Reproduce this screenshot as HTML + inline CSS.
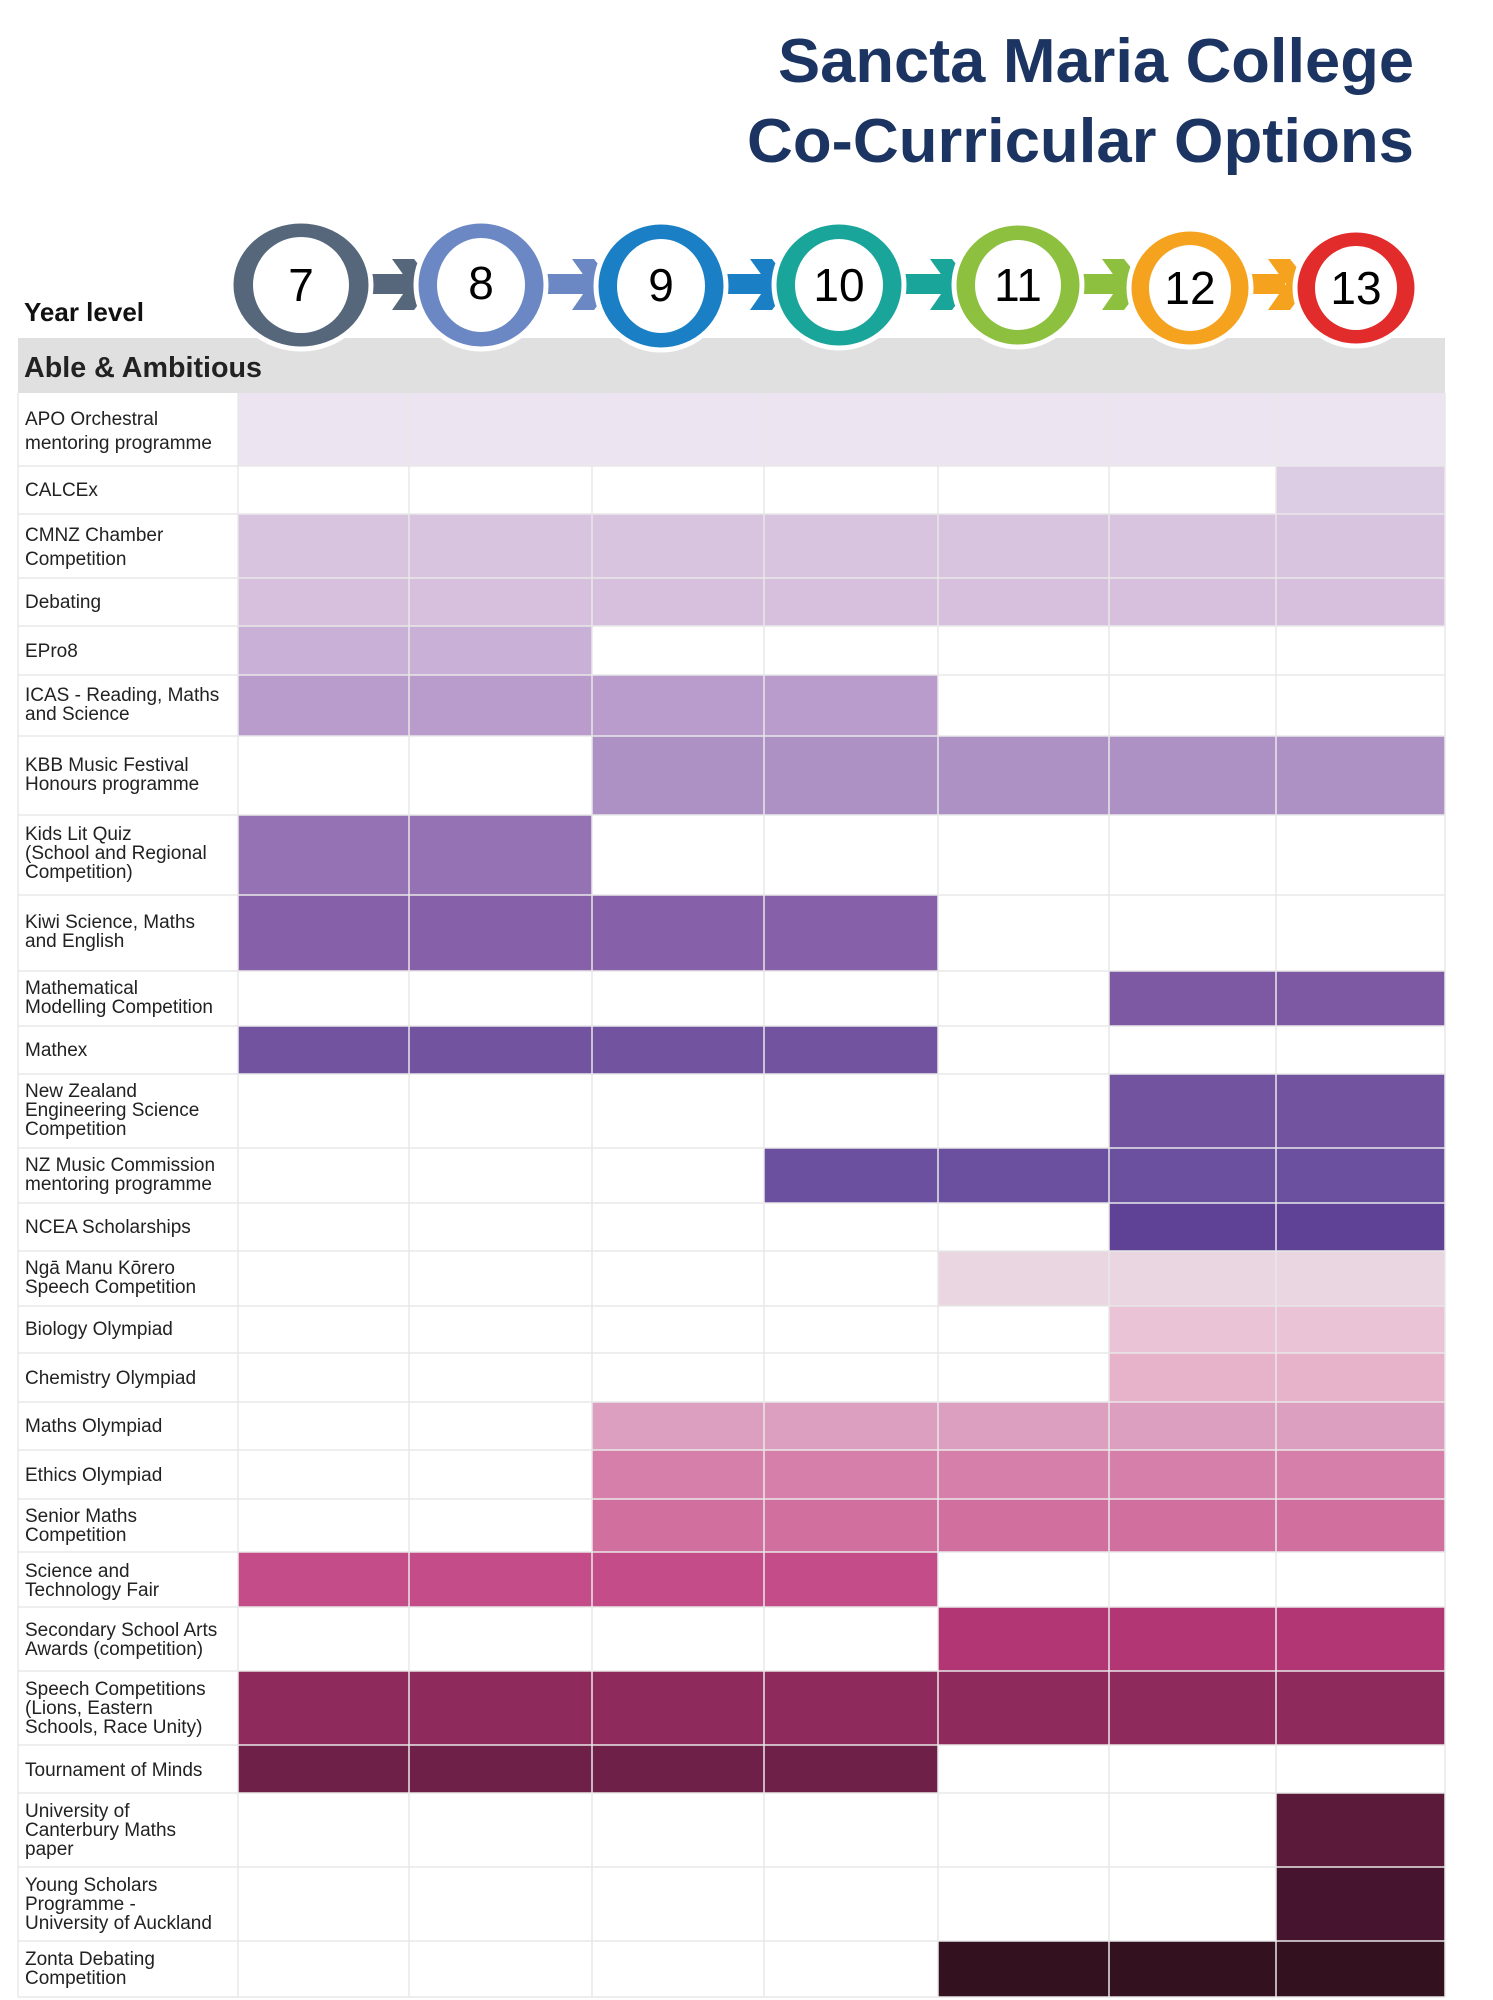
<!DOCTYPE html>
<html><head><meta charset="utf-8"><style>
html,body{margin:0;padding:0;background:#fff;}
svg{display:block;}
text{font-family:"Liberation Sans",sans-serif;}
</style></head><body>
<svg width="1493" height="2000" viewBox="0 0 1493 2000" xmlns="http://www.w3.org/2000/svg">
<rect width="1493" height="2000" fill="#fff"/>
<text x="778" y="82" font-size="62" font-weight="bold" fill="#1c3461" textLength="636" lengthAdjust="spacingAndGlyphs">Sancta Maria College</text>
<text x="747" y="162" font-size="62" font-weight="bold" fill="#1c3461" textLength="667" lengthAdjust="spacingAndGlyphs">Co-Curricular Options</text>

<text x="24" y="321" font-size="26" font-weight="bold" fill="#111">Year level</text>
<rect x="18" y="338" width="1427" height="55" fill="#e0e0e0"/>
<text x="24" y="377" font-size="29" font-weight="bold" fill="#222" textLength="238" lengthAdjust="spacingAndGlyphs">Able &amp; Ambitious</text>

<g>
<rect x="360" y="274" width="50" height="20" fill="#56677c"/><polygon points="392,259 414,259 434,284 414,310 392,310 410,284" fill="#56677c"/>
<rect x="540" y="274" width="50" height="20" fill="#6b87c4"/><polygon points="572,259 594,259 614,284 594,310 572,310 590,284" fill="#6b87c4"/>
<rect x="720" y="274" width="50" height="20" fill="#1a7fc4"/><polygon points="750,259 772,259 792,284 772,310 750,310 768,284" fill="#1a7fc4"/>
<rect x="895" y="274" width="55" height="20" fill="#1aa59a"/><polygon points="930,259 952,259 972,284 952,310 930,310 948,284" fill="#1aa59a"/>
<rect x="1075" y="274" width="45" height="20" fill="#8dc03f"/><polygon points="1102,259 1124,259 1144,284 1124,310 1102,310 1120,284" fill="#8dc03f"/>
<rect x="1240" y="274" width="45" height="20" fill="#f5a31f"/><polygon points="1268,259 1290,259 1310,284 1290,310 1268,310 1286,284" fill="#f5a31f"/>
</g>
<g stroke="#fff" stroke-width="5">
<ellipse cx="301" cy="285" rx="70" ry="64" fill="#56677c"/>
<ellipse cx="481" cy="285" rx="65" ry="64" fill="#6b87c4"/>
<ellipse cx="661" cy="286" rx="65" ry="64" fill="#1a7fc4"/>
<ellipse cx="839" cy="285" rx="65" ry="63" fill="#1aa59a"/>
<ellipse cx="1018" cy="285" rx="64" ry="62" fill="#8dc03f"/>
<ellipse cx="1190" cy="288" rx="61" ry="59" fill="#f5a31f"/>
<ellipse cx="1356" cy="288" rx="61" ry="58" fill="#e22b2b"/>
</g>
<g fill="#fff">
<ellipse cx="301" cy="285" rx="48" ry="48"/>
<ellipse cx="481" cy="285" rx="44" ry="47"/>
<ellipse cx="661" cy="286" rx="44" ry="47"/>
<ellipse cx="839" cy="285" rx="44" ry="46"/>
<ellipse cx="1018" cy="285" rx="43" ry="45"/>
<ellipse cx="1190" cy="288" rx="41" ry="43"/>
<ellipse cx="1356" cy="288" rx="41" ry="42"/>
</g>
<g font-size="46" fill="#000" text-anchor="middle">
<text x="301" y="301">7</text><text x="481" y="299">8</text><text x="661" y="301">9</text>
<text x="839" y="301">10</text><text x="1018" y="301">11</text><text x="1190" y="304">12</text><text x="1356" y="304">13</text>
</g>

<g>
<rect x="238" y="393" width="1207" height="73" fill="#ede4f1"/>
<rect x="1276" y="466" width="169" height="48" fill="#dccce4"/>
<rect x="238" y="514" width="1207" height="64" fill="#d8c4de"/>
<rect x="238" y="578" width="1207" height="48" fill="#d6c0dd"/>
<rect x="238" y="626" width="354" height="49" fill="#c9b0d6"/>
<rect x="238" y="675" width="700" height="61" fill="#b99ccb"/>
<rect x="592" y="736" width="853" height="79" fill="#ad90c4"/>
<rect x="238" y="815" width="354" height="80" fill="#9472b3"/>
<rect x="238" y="895" width="700" height="76" fill="#8660a8"/>
<rect x="1109" y="971" width="336" height="55" fill="#7d58a3"/>
<rect x="238" y="1026" width="700" height="48" fill="#7253a0"/>
<rect x="1109" y="1074" width="336" height="74" fill="#7253a0"/>
<rect x="764" y="1148" width="681" height="55" fill="#6b50a0"/>
<rect x="1109" y="1203" width="336" height="48" fill="#5f4196"/>
<rect x="938" y="1251" width="507" height="55" fill="#ead6e0"/>
<rect x="1109" y="1306" width="336" height="47" fill="#eac4d6"/>
<rect x="1109" y="1353" width="336" height="49" fill="#e6b3cb"/>
<rect x="592" y="1402" width="853" height="48" fill="#dd9fc0"/>
<rect x="592" y="1450" width="853" height="49" fill="#d67fab"/>
<rect x="592" y="1499" width="853" height="53" fill="#d16f9f"/>
<rect x="238" y="1552" width="700" height="55" fill="#c44d89"/>
<rect x="938" y="1607" width="507" height="64" fill="#b23574"/>
<rect x="238" y="1671" width="1207" height="74" fill="#8e2a5c"/>
<rect x="238" y="1745" width="700" height="48" fill="#6e2048"/>
<rect x="1276" y="1793" width="169" height="74" fill="#5b1a39"/>
<rect x="1276" y="1867" width="169" height="74" fill="#46142e"/>
<rect x="938" y="1941" width="507" height="56" fill="#33111f"/>
</g>
<g stroke="#e8e8e8" stroke-width="1.5">
<line x1="18" y1="393" x2="18" y2="1997"/>
<line x1="238" y1="393" x2="238" y2="1997"/>
<line x1="409" y1="393" x2="409" y2="1997"/>
<line x1="592" y1="393" x2="592" y2="1997"/>
<line x1="764" y1="393" x2="764" y2="1997"/>
<line x1="938" y1="393" x2="938" y2="1997"/>
<line x1="1109" y1="393" x2="1109" y2="1997"/>
<line x1="1276" y1="393" x2="1276" y2="1997"/>
<line x1="1445" y1="393" x2="1445" y2="1997"/>
<line x1="18" y1="466" x2="1445" y2="466"/><line x1="18" y1="514" x2="1445" y2="514"/>
<line x1="18" y1="578" x2="1445" y2="578"/><line x1="18" y1="626" x2="1445" y2="626"/>
<line x1="18" y1="675" x2="1445" y2="675"/><line x1="18" y1="736" x2="1445" y2="736"/>
<line x1="18" y1="815" x2="1445" y2="815"/><line x1="18" y1="895" x2="1445" y2="895"/>
<line x1="18" y1="971" x2="1445" y2="971"/><line x1="18" y1="1026" x2="1445" y2="1026"/>
<line x1="18" y1="1074" x2="1445" y2="1074"/><line x1="18" y1="1148" x2="1445" y2="1148"/>
<line x1="18" y1="1203" x2="1445" y2="1203"/><line x1="18" y1="1251" x2="1445" y2="1251"/>
<line x1="18" y1="1306" x2="1445" y2="1306"/><line x1="18" y1="1353" x2="1445" y2="1353"/>
<line x1="18" y1="1402" x2="1445" y2="1402"/><line x1="18" y1="1450" x2="1445" y2="1450"/>
<line x1="18" y1="1499" x2="1445" y2="1499"/><line x1="18" y1="1552" x2="1445" y2="1552"/>
<line x1="18" y1="1607" x2="1445" y2="1607"/><line x1="18" y1="1671" x2="1445" y2="1671"/>
<line x1="18" y1="1745" x2="1445" y2="1745"/><line x1="18" y1="1793" x2="1445" y2="1793"/>
<line x1="18" y1="1867" x2="1445" y2="1867"/><line x1="18" y1="1941" x2="1445" y2="1941"/>
<line x1="18" y1="1997" x2="1445" y2="1997"/>
</g>
<g font-size="19" fill="#222">
<text x="25" y="425">APO Orchestral</text><text x="25" y="449">mentoring programme</text>
<text x="25" y="496">CALCEx</text>
<text x="25" y="541">CMNZ Chamber</text><text x="25" y="565">Competition</text>
<text x="25" y="608">Debating</text>
<text x="25" y="657">EPro8</text>
<text x="25" y="701">ICAS - Reading, Maths</text><text x="25" y="720">and Science</text>
<text x="25" y="771">KBB Music Festival</text><text x="25" y="790">Honours programme</text>
<text x="25" y="840">Kids Lit Quiz</text><text x="25" y="859">(School and Regional</text><text x="25" y="878">Competition)</text>
<text x="25" y="928">Kiwi Science, Maths</text><text x="25" y="947">and English</text>
<text x="25" y="994">Mathematical</text><text x="25" y="1013">Modelling Competition</text>
<text x="25" y="1056">Mathex</text>
<text x="25" y="1097">New Zealand</text><text x="25" y="1116">Engineering Science</text><text x="25" y="1135">Competition</text>
<text x="25" y="1171">NZ Music Commission</text><text x="25" y="1190">mentoring programme</text>
<text x="25" y="1233">NCEA Scholarships</text>
<text x="25" y="1274">Ngā Manu Kōrero</text><text x="25" y="1293">Speech Competition</text>
<text x="25" y="1335">Biology Olympiad</text>
<text x="25" y="1384">Chemistry Olympiad</text>
<text x="25" y="1432">Maths Olympiad</text>
<text x="25" y="1481">Ethics Olympiad</text>
<text x="25" y="1522">Senior Maths</text><text x="25" y="1541">Competition</text>
<text x="25" y="1577">Science and</text><text x="25" y="1596">Technology Fair</text>
<text x="25" y="1636">Secondary School Arts</text><text x="25" y="1655">Awards (competition)</text>
<text x="25" y="1695">Speech Competitions</text><text x="25" y="1714">(Lions, Eastern</text><text x="25" y="1733">Schools, Race Unity)</text>
<text x="25" y="1776">Tournament of Minds</text>
<text x="25" y="1817">University of</text><text x="25" y="1836">Canterbury Maths</text><text x="25" y="1855">paper</text>
<text x="25" y="1891">Young Scholars</text><text x="25" y="1910">Programme -</text><text x="25" y="1929">University of Auckland</text>
<text x="25" y="1965">Zonta Debating</text><text x="25" y="1984">Competition</text>
</g>
</svg>
</body></html>
